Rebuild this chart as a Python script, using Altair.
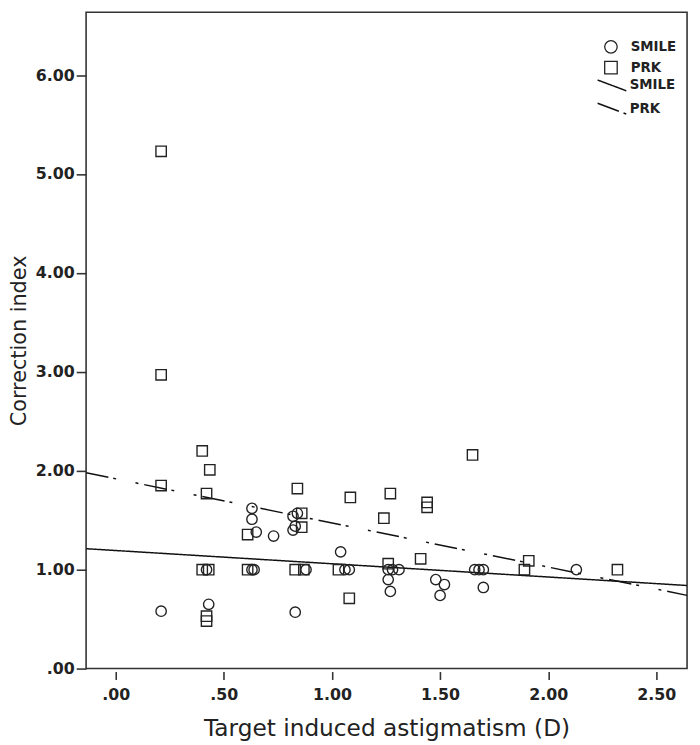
import altair as alt
import pandas as pd

# ---- data ----
smile_x = [0.21, 0.42, 0.43, 0.63, 0.63, 0.65, 0.63, 0.64, 0.73, 0.82, 0.84, 0.82, 0.83,
           0.88, 0.83, 1.04, 1.06, 1.08, 1.26, 1.27, 1.26, 1.28, 1.31, 1.48, 1.52, 1.50,
           1.66, 1.68, 1.70, 1.70, 2.13]
smile_y = [0.58, 1.00, 0.65, 1.62, 1.51, 1.38, 1.00, 1.00, 1.34, 1.54, 1.57, 1.40, 1.44,
           1.00, 0.57, 1.18, 1.00, 1.00, 0.90, 0.78, 1.00, 1.00, 1.00, 0.90, 0.85, 0.74,
           1.00, 1.00, 1.00, 0.82, 1.00]

prk_x = [0.21, 0.21, 0.21, 0.40, 0.435, 0.42, 0.40, 0.43, 0.42, 0.42, 0.61, 0.61, 0.84,
         0.86, 0.86, 0.83, 0.87, 1.03, 1.08, 1.085, 1.24, 1.27, 1.26, 1.41, 1.44, 1.44,
         1.65, 1.89, 1.91, 2.32]
prk_y = [5.23, 2.97, 1.85, 2.20, 2.01, 1.77, 1.00, 1.00, 0.53, 0.48, 1.355, 1.00, 1.82,
         1.57, 1.43, 1.00, 1.00, 1.00, 0.71, 1.73, 1.52, 1.77, 1.06, 1.11, 1.68, 1.63,
         2.16, 1.00, 1.09, 1.00]

# fitted lines (end points at the plot edges)
fit_x = [-0.137, 2.642]
smile_fit = [1.212, 0.840]
prk_fit = [1.98, 0.74]

groups = ["SMILE", "PRK"]
fit_groups = ["SMILE fit", "PRK fit"]
x_ticks = [0, 0.5, 1.0, 1.5, 2.0, 2.5]
y_ticks = [0, 1, 2, 3, 4, 5, 6]

pts = pd.DataFrame(
    {"x": smile_x + prk_x,
     "y": smile_y + prk_y,
     "group": ["SMILE"] * len(smile_x) + ["PRK"] * len(prk_x)}
)
fits = pd.DataFrame(
    {"x": fit_x + fit_x,
     "y": smile_fit + prk_fit,
     "fit": ["SMILE fit"] * 2 + ["PRK fit"] * 2}
)

LBL = "DejaVu Sans"
lab_expr = "datum.value < 1 ? substring(format(datum.value, '.2f'), 1) : format(datum.value, '.2f')"

xscale = alt.Scale(domain=[-0.137, 2.642], nice=False, zero=False)
yscale = alt.Scale(domain=[0, 6.636], nice=False, zero=False)

xaxis = alt.Axis(values=x_ticks, labelExpr=lab_expr, title="Target induced astigmatism (D)",
                 grid=False, domain=False, offset=3, tickSize=8, tickWidth=1.6,
                 tickColor="#333333", labelFont=LBL, labelFontWeight="bold",
                 labelFontSize=16, labelColor="#222222", labelPadding=7,
                 titleFont=LBL, titleFontSize=23.5, titleFontWeight="normal",
                 titleColor="#222222", titlePadding=15)
yaxis = alt.Axis(values=y_ticks, labelExpr=lab_expr, title="Correction index",
                 grid=False, domain=False, tickSize=10, tickWidth=1.6,
                 tickColor="#333333", labelFont=LBL, labelFontWeight="bold",
                 labelFontSize=16, labelColor="#222222", labelPadding=2,
                 titleFont=LBL, titleFontSize=21, titleFontWeight="normal",
                 titleColor="#222222", titlePadding=6)

points = alt.Chart(pts).mark_point(filled=False, size=110, strokeWidth=1.4,
                                   color="#222222", opacity=1).encode(
    x=alt.X("x:Q", scale=xscale, axis=xaxis),
    y=alt.Y("y:Q", scale=yscale, axis=yaxis),
    shape=alt.Shape("group:N",
                    scale=alt.Scale(domain=groups, range=["circle", "square"]),
                    legend=alt.Legend(title=None, orient="none", legendX=524, legendY=28,
                                      symbolSize=160, symbolStrokeWidth=1.3,
                                      symbolStrokeColor="#222222", symbolFillColor="transparent",
                                      labelFont=LBL, labelFontWeight="bold", labelFontSize=13.5,
                                      labelColor="#222222", labelOffset=13, rowPadding=3,
                                      padding=0)),
)

lines = alt.Chart(fits).mark_line(color="#111111", strokeWidth=1.5, clip=True).encode(
    x=alt.X("x:Q", scale=xscale),
    y=alt.Y("y:Q", scale=yscale),
    strokeDash=alt.StrokeDash("fit:N",
                              scale=alt.Scale(domain=fit_groups,
                                              range=[[1, 0], [23, 5, 3, 20, 3, 6]]),
                              legend=alt.Legend(title=None, orient="none", legendX=524, legendY=66,
                                                symbolType="M-2,-0.75L2,0.75", symbolSize=210,
                                                symbolStrokeWidth=1.5, symbolStrokeColor="#111111",
                                                labelExpr="split(datum.label, ' ')[0]",
                                                labelFont=LBL, labelFontWeight="bold",
                                                labelFontSize=13.5, labelColor="#222222",
                                                labelOffset=10, rowPadding=5.5, padding=0)),
)

chart = alt.layer(lines, points).properties(
    width=608, height=664,
    autosize=alt.AutoSizeParams(type="none"),
    padding={"left": 79, "top": 0, "right": 5, "bottom": 72},
).configure_view(stroke="#333333", strokeWidth=1.6)

chart.save("out.html", embed_options={"renderer": "svg", "actions": False})
